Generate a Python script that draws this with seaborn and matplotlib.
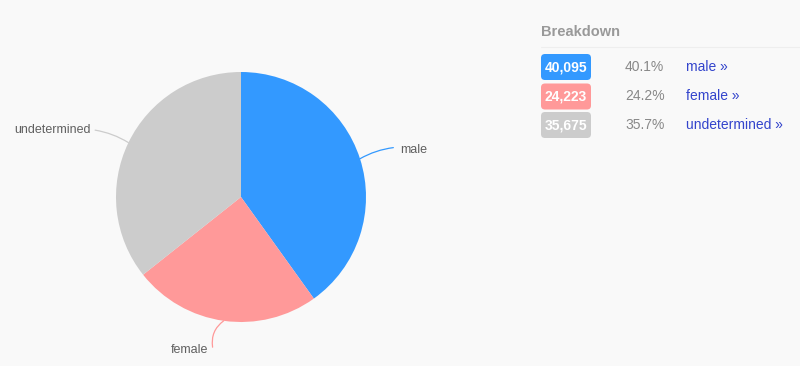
import numpy as np
import seaborn as sns
import matplotlib.pyplot as plt
from matplotlib.patches import FancyBboxPatch

# Data
categories = ["male", "female", "undetermined"]
counts = [40095, 24223, 35675]
colors = ["#3399ff", "#ff9999", "#cccccc"]

sns.set_theme(style="white")
plt.rcParams["font.family"] = ["Liberation Sans", "DejaVu Sans"]

bg = "#f9f9f9"
fig = plt.figure(figsize=(8, 3.66), dpi=100, facecolor=bg)

# Pie axes: centre (241, 197) px, radius 125 px
cx, cy, r = 241, 197, 125
ax = fig.add_axes([(cx - r) / 800, (366 - cy - r) / 366, 2 * r / 800, 2 * r / 366])
ax.set_facecolor(bg)
wedges, _ = ax.pie(counts, colors=colors, startangle=90, counterclock=False,
                   radius=1, wedgeprops=dict(linewidth=0))
ax.set_xlim(-1, 1)
ax.set_ylim(-1, 1)
ax.axis("off")

# Slice labels with connectors (offsets in points)
label_offsets = {
    "male": ((24, 8), (29, 6), "left", 0.1),
    "female": ((-8, -19), (-11, -21), "right", -0.3),
    "undetermined": ((-24, 9), (-27, 9), "right", -0.1),
}
for w, name, col in zip(wedges, categories, colors):
    ang = np.deg2rad((w.theta1 + w.theta2) / 2)
    edge = (np.cos(ang), np.sin(ang))
    line_end, text_off, ha, rad = label_offsets[name]
    ax.annotate("", xy=edge, xytext=line_end, textcoords="offset points",
                arrowprops=dict(arrowstyle="-", color=col, lw=0.9,
                                shrinkA=0, shrinkB=0,
                                connectionstyle=f"arc3,rad={rad}"),
                annotation_clip=False)
    ax.annotate(name, xy=edge, xytext=text_off, textcoords="offset points",
                ha=ha, va="center", fontsize=9, color="#606060",
                annotation_clip=False)

# Breakdown panel
def px(x, y):
    return x / 800, 1 - y / 366

fig.text(*px(541, 32), "Breakdown", fontsize=10.5, fontweight="bold",
         color="#999999", ha="left", va="center")
fig.add_artist(plt.Line2D([541 / 800, 1], [1 - 47 / 366] * 2, color="#eeeeee", lw=0.8))

total = sum(counts)
row_y = [67, 96.5, 125]
for name, n, col, y in zip(categories, counts, colors, row_y):
    x0, y0 = px(541, y + 13)
    fig.add_artist(FancyBboxPatch((x0, y0), 50 / 800, 26 / 366,
                                  boxstyle="round,pad=0,rounding_size=0.005",
                                  transform=fig.transFigure, facecolor=col,
                                  edgecolor="none", mutation_aspect=800 / 366))
    fig.text(*px(566, y), f"{n:,}", fontsize=10, fontweight="bold",
             color="white", ha="center", va="center")
    fig.text(*px(625, y), f"{n / total * 100:.1f}%", fontsize=10,
             color="#888888", ha="left", va="center")
    fig.text(*px(686, y), f"{name} »", fontsize=10,
             color="#3344cc", ha="left", va="center")

fig.savefig("out.png", dpi=100, facecolor=bg)
